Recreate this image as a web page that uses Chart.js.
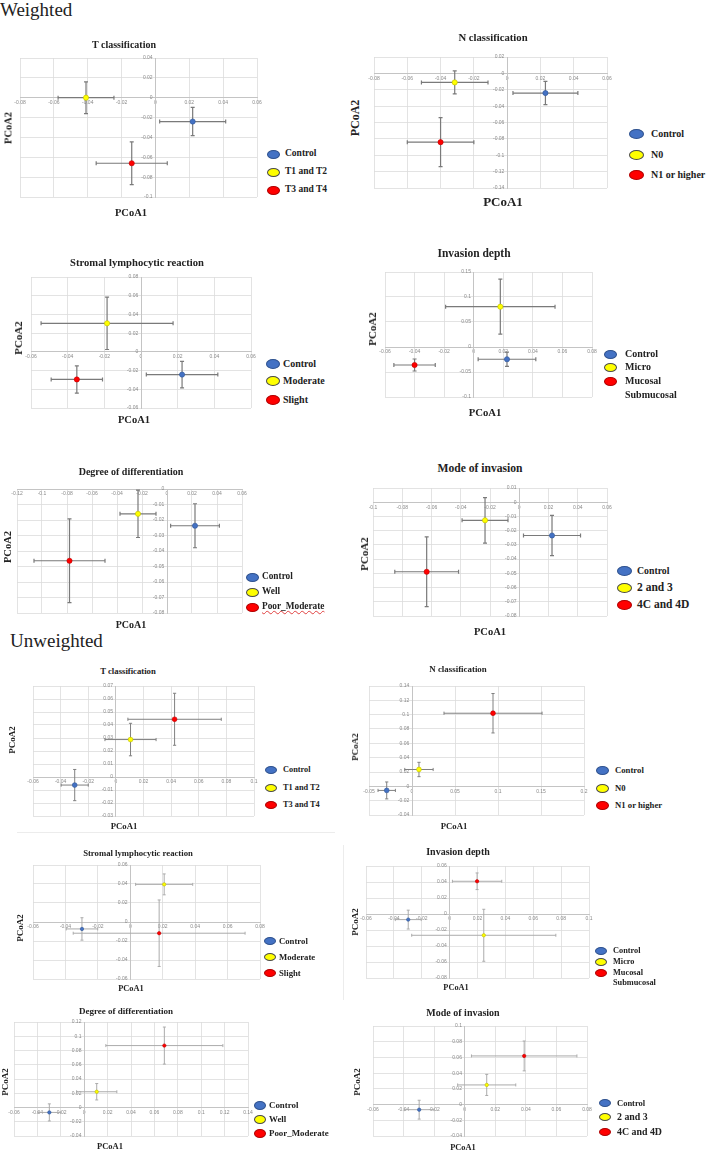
<!DOCTYPE html>
<html>
<head>
<meta charset="utf-8">
<script src="https://cdn.jsdelivr.net/npm/chart.js@4.4.0/dist/chart.umd.min.js"></script>
<style>
  body { margin: 0; background: #fff; }
  #page { position: relative; width: 709px; height: 1152px; overflow: hidden; font-family: 'Liberation Serif', 'Times New Roman', serif; color: #222; }
  .abs { position: absolute; white-space: pre; }
  .head { font-size: 19px; }
  .ttl { font-weight: bold; transform: translate(-50%, -50%); }
  .ylab { font-weight: bold; transform: translate(-50%, -50%) rotate(-90deg); }
  .lg { font-weight: bold; }
  .dot { position: absolute; border-radius: 50%; box-sizing: border-box; }
  .sep { position: absolute; background: #ececec; }
</style>
</head>
<body>
<div id="page">
  <div class="abs head" style="left:0;top:-1px">Weighted</div>
  <div class="abs head" style="left:10px;top:630px">Unweighted</div>
  <div class="sep" style="left:17px;top:832px;width:318px;height:1px"></div>
  <div class="sep" style="left:343px;top:845px;width:1px;height:155px"></div>
</div>
<script>
// group names
const grpT = ['Control', 'T1 and T2', 'T3 and T4'];
const grpN = ['Control', 'N0', 'N1 or higher'];
const grpS = ['Control', 'Moderate', 'Slight'];
const grpI = ['Control', 'Micro', 'Mucosal\nSubmucosal'];
const grpD = ['Control', 'Well', 'Poor_Moderate'];
const grpM = ['Control', '2 and 3', '4C and 4D'];

// weighted: mean PCoA1 / PCoA2 and error (+/-) per group
const wT_pc1 = [0.022, -0.041, -0.014];
const wT_pc2 = [-0.024, 0.000, -0.066];
const wT_e1 = [0.0195, 0.0165, 0.021];
const wT_e2 = [0.0142, 0.016, 0.0215];

const wN_pc1 = [0.023, -0.0315, -0.040];
const wN_pc2 = [-0.024, -0.011, -0.084];
const wN_e1 = [0.0195, 0.020, 0.020];
const wN_e2 = [0.0142, 0.014, 0.030];

const wS_pc1 = [0.0224, -0.0185, -0.035];
const wS_pc2 = [-0.0243, 0.0305, -0.0295];
const wS_e1 = [0.0195, 0.036, 0.014];
const wS_e2 = [0.0142, 0.028, 0.0145];

const wI_pc1 = [0.0225, 0.018, -0.040];
const wI_pc2 = [-0.0245, 0.0806, -0.036];
const wI_e1 = [0.0195, 0.037, 0.014];
const wI_e2 = [0.0142, 0.055, 0.012];

const wD_pc1 = [0.0224, -0.0232, -0.078];
const wD_pc2 = [-0.0237, -0.016, -0.0463];
const wD_e1 = [0.0195, 0.0144, 0.0284];
const wD_e2 = [0.0142, 0.0153, 0.027];

const wM_pc1 = [0.0224, -0.0234, -0.0633];
const wM_pc2 = [-0.0234, -0.0127, -0.0489];
const wM_e1 = [0.0195, 0.0157, 0.0218];
const wM_e2 = [0.0142, 0.016, 0.0245];

// unweighted
const uT_pc1 = [-0.0298, 0.0106, 0.0425];
const uT_pc2 = [-0.0062, 0.0288, 0.0444];
const uT_e1 = [0.0098, 0.0185, 0.0338];
const uT_e2 = [0.012, 0.0125, 0.020];

const uN_pc1 = [-0.0294, 0.0081, 0.0942];
const uN_pc2 = [-0.0057, 0.0235, 0.102];
const uN_e1 = [0.0101, 0.0165, 0.057];
const uN_e2 = [0.0118, 0.010, 0.0275];

const uS_pc1 = [-0.0298, 0.0209, 0.0178];
const uS_pc2 = [-0.0073, 0.0396, -0.0118];
const uS_e1 = [0.0097, 0.0176, 0.053];
const uS_e2 = [0.0118, 0.011, 0.035];

const uI_pc1 = [-0.0297, 0.0245, 0.0197];
const uI_pc2 = [-0.007, -0.0266, 0.0409];
const uI_e1 = [0.0093, 0.0517, 0.0177];
const uI_e2 = [0.0118, 0.0325, 0.0104];

const uD_pc1 = [-0.0298, 0.0107, 0.0685];
const uD_pc2 = [-0.0069, 0.0221, 0.0869];
const uD_e1 = [0.0098, 0.0172, 0.050];
const uD_e2 = [0.012, 0.0115, 0.026];

const uM_pc1 = [-0.0298, 0.0144, 0.0389];
const uM_pc2 = [-0.0065, 0.025, 0.0619];
const uM_e1 = [0.0098, 0.019, 0.0345];
const uM_e2 = [0.012, 0.0134, 0.019];

// axis ticks: [min, max, step]
const wT_xTicks = [-0.08, 0.06, 0.02], wT_yTicks = [-0.1, 0.04, 0.02];
const wN_xTicks = [-0.08, 0.06, 0.02], wN_yTicks = [-0.14, 0.02, 0.02];
const wS_xTicks = [-0.06, 0.06, 0.02], wS_yTicks = [-0.06, 0.08, 0.02];
const wI_xTicks = [-0.06, 0.08, 0.02], wI_yTicks = [-0.1, 0.15, 0.05];
const wD_xTicks = [-0.12, 0.06, 0.02], wD_yTicks = [-0.08, 0, 0.01];
const wM_xTicks = [-0.1, 0.06, 0.02], wM_yTicks = [-0.08, 0.01, 0.01];
const uT_xTicks = [-0.06, 0.1, 0.02], uT_yTicks = [-0.03, 0.07, 0.01];
const uN_xTicks = [-0.05, 0.2, 0.05], uN_yTicks = [-0.04, 0.14, 0.02];
const uS_xTicks = [-0.06, 0.08, 0.02], uS_yTicks = [-0.06, 0.06, 0.02];
const uI_xTicks = [-0.06, 0.1, 0.02], uI_yTicks = [-0.08, 0.06, 0.02];
const uD_xTicks = [-0.06, 0.14, 0.02], uD_yTicks = [-0.04, 0.12, 0.02];
const uM_xTicks = [-0.06, 0.08, 0.02], uM_yTicks = [-0.04, 0.1, 0.02];

// look
const FILL = ['#4472C4', '#FFFF00', '#FF0000'];
const EDGE = ['#2F5597', '#BDBD00', '#C00000'];
const LG_EDGE = ['#2F528F', '#4a4a4a', '#B00000'];
const W = { r: 2.6, bar: '#7a7a7a', bw: 1.2, cap: 2 };
const U1 = { r: 2.4, bar: '#808080', bw: 1, cap: 1.6 };
const U2 = { r: 1.7, bar: '#ababab', bw: 1, cap: 1.5 };

const panels = [
  { title: 'T classification', g: grpT, pc1: wT_pc1, pc2: wT_pc2, e1: wT_e1, e2: wT_e2, xt: wT_xTicks, yt: wT_yTicks,
    box: [20, 58, 237, 139], tp: [124, 44, 10], yl: [8, 128, 10.5], xl: [131, 212, 10.5],
    lg: { x: 267, tx: 285, ys: [154, 172, 190], fs: 9.5, ew: 13, eh: 9 }, st: W },
  { title: 'N classification', g: grpN, pc1: wN_pc1, pc2: wN_pc2, e1: wN_e1, e2: wN_e2, xt: wN_xTicks, yt: wN_yTicks,
    box: [374, 57, 233, 131], tp: [493, 37, 10.7], yl: [355, 118, 12], xl: [503, 202, 13],
    lg: { x: 629, tx: 651, ys: [134, 155, 175], fs: 10, ew: 15, eh: 10 }, st: W },
  { title: 'Stromal lymphocytic reaction', g: grpS, pc1: wS_pc1, pc2: wS_pc2, e1: wS_e1, e2: wS_e2, xt: wS_xTicks, yt: wS_yTicks,
    box: [31, 277, 220, 131], tp: [137, 262, 10.6], yl: [18, 338, 11], xl: [134, 419, 10.5],
    lg: { x: 266, tx: 283, ys: [364, 381, 400], fs: 10, ew: 14, eh: 10 }, st: W },
  { title: 'Invasion depth', g: grpI, pc1: wI_pc1, pc2: wI_pc2, e1: wI_e1, e2: wI_e2, xt: wI_xTicks, yt: wI_yTicks,
    box: [385, 272, 207, 125], tp: [474, 253, 11.5], yl: [372, 329, 11], xl: [485, 412, 10.7],
    lg: { x: 604, tx: 625, ys: [354, 367, 381], lh: 13.5, fs: 10, ew: 13, eh: 9 }, st: W },
  { title: 'Degree of differentiation', g: grpD, pc1: wD_pc1, pc2: wD_pc2, e1: wD_e1, e2: wD_e2, xt: wD_xTicks, yt: wD_yTicks,
    box: [17, 489, 225, 124], tp: [131, 471, 10], yl: [7, 547, 10.5], xl: [131, 624, 10],
    lg: { x: 246, tx: 262, ys: [577, 592, 607], fs: 9.3, ew: 13, eh: 9, under: true }, st: W },
  { title: 'Mode of invasion', g: grpM, pc1: wM_pc1, pc2: wM_pc2, e1: wM_e1, e2: wM_e2, xt: wM_xTicks, yt: wM_yTicks,
    box: [373, 488, 234, 128], tp: [480, 468, 11.6], yl: [364, 554, 11], xl: [490, 631, 10.5],
    lg: { x: 617, tx: 637, ys: [571, 588, 605], fs: 9.8, big: 11.5, ew: 15, eh: 10 }, st: W },
  { title: 'T classification', g: grpT, pc1: uT_pc1, pc2: uT_pc2, e1: uT_e1, e2: uT_e2, xt: uT_xTicks, yt: uT_yTicks,
    box: [33, 686, 221, 130], tp: [128, 671, 8.7], yl: [12, 740, 9], xl: [124, 826, 8.7],
    lg: { x: 265, tx: 283, ys: [770, 788, 805], fs: 8.3, ew: 12, eh: 8 }, st: U1 },
  { title: 'N classification', g: grpN, pc1: uN_pc1, pc2: uN_pc2, e1: uN_e1, e2: uN_e2, xt: uN_xTicks, yt: uN_yTicks,
    box: [369, 686, 215, 129], tp: [458, 669, 8.9], yl: [355, 747, 9], xl: [454, 826, 8.7],
    lg: { x: 596, tx: 615, ys: [770, 788, 805], fs: 8.7, ew: 13, eh: 9 }, st: U1 },
  { title: 'Stromal lymphocytic reaction', g: grpS, pc1: uS_pc1, pc2: uS_pc2, e1: uS_e1, e2: uS_e2, xt: uS_xTicks, yt: uS_yTicks,
    box: [33, 865, 227, 114], tp: [138, 853, 8.7], yl: [20, 928, 9], xl: [131, 988, 8.4],
    lg: { x: 264, tx: 279, ys: [941, 957, 973], fs: 8.7, ew: 12, eh: 8 }, st: U2 },
  { title: 'Invasion depth', g: grpI, pc1: uI_pc1, pc2: uI_pc2, e1: uI_e1, e2: uI_e2, xt: uI_xTicks, yt: uI_yTicks,
    box: [366, 866, 223, 112], tp: [458, 851, 10], yl: [355, 922, 9], xl: [456, 987, 8.3],
    lg: { x: 595, tx: 613, ys: [951, 962, 973], lh: 10.5, fs: 8.3, ew: 12, eh: 8 }, st: U2 },
  { title: 'Degree of differentiation', g: grpD, pc1: uD_pc1, pc2: uD_pc2, e1: uD_e1, e2: uD_e2, xt: uD_xTicks, yt: uD_yTicks,
    box: [14, 1022, 234, 114], tp: [126, 1011, 9], yl: [5, 1082, 9], xl: [110, 1146, 8.5],
    lg: { x: 254, tx: 269, ys: [1105, 1119, 1133], fs: 8.9, ew: 12, eh: 9 }, st: U2 },
  { title: 'Mode of invasion', g: grpM, pc1: uM_pc1, pc2: uM_pc2, e1: uM_e1, e2: uM_e2, xt: uM_xTicks, yt: uM_yTicks,
    box: [373, 1026, 214, 110], tp: [463, 1012, 10], yl: [357, 1082, 9], xl: [463, 1147, 8.4],
    lg: { x: 599, tx: 617, ys: [1103, 1117, 1132], fs: 8.5, big: 9.9, ew: 12, eh: 8 }, st: U2 }
];

// error bars drawn from each point's +/- values through the chart scales
const errorBars = {
  id: 'errorBars',
  beforeDatasetsDraw(chart, args, opts) {
    const { ctx, scales: { x, y } } = chart;
    const c = opts.cap;
    ctx.save();
    ctx.strokeStyle = opts.color;
    ctx.lineWidth = opts.width;
    chart.data.datasets.forEach(ds => {
      ds.data.forEach(p => {
        const px = x.getPixelForValue(p.x), py = y.getPixelForValue(p.y);
        const x0 = x.getPixelForValue(p.x - p.xe), x1 = x.getPixelForValue(p.x + p.xe);
        const y0 = y.getPixelForValue(p.y - p.ye), y1 = y.getPixelForValue(p.y + p.ye);
        ctx.beginPath();
        ctx.moveTo(x0, py); ctx.lineTo(x1, py);
        ctx.moveTo(x0, py - c); ctx.lineTo(x0, py + c);
        ctx.moveTo(x1, py - c); ctx.lineTo(x1, py + c);
        ctx.moveTo(px, y0); ctx.lineTo(px, y1);
        ctx.moveTo(px - c, y0); ctx.lineTo(px + c, y0);
        ctx.moveTo(px - c, y1); ctx.lineTo(px + c, y1);
        ctx.stroke();
      });
    });
    ctx.restore();
  }
};

const fmt = v => String(parseFloat(Number(v).toFixed(4)));
const page = document.getElementById('page');

function addText(cls, txt, css) {
  const d = document.createElement('div');
  d.className = 'abs ' + cls;
  d.textContent = txt;
  d.style.cssText = css;
  page.appendChild(d);
  return d;
}

function axisOpts(t, pos, isY) {
  return {
    type: 'linear',
    position: pos,
    min: t[0], max: t[1],
    ticks: {
      stepSize: t[2], autoSkip: false, maxRotation: 0, padding: 2,
      color: '#8a8a8a', font: { size: 5, family: 'Liberation Sans' },
      callback: v => isY ? fmt(v) + '  ' : fmt(v)
    },
    grid: { color: '#dcdcdc', lineWidth: 0.8, drawTicks: false },
    border: { color: '#c4c4c4', width: 1 }
  };
}

panels.forEach(p => {
  const pad = 10;
  const [bx, by, bw, bh] = p.box;
  const cv = document.createElement('canvas');
  cv.width = bw + 2 * pad;
  cv.height = bh + 2 * pad;
  cv.style.cssText = `position:absolute;left:${bx - pad}px;top:${by - pad}px;`;
  page.appendChild(cv);

  new Chart(cv, {
    type: 'scatter',
    data: {
      datasets: p.g.map((name, k) => ({
        label: name,
        data: [{ x: p.pc1[k], y: p.pc2[k], xe: p.e1[k], ye: p.e2[k] }],
        backgroundColor: FILL[k],
        borderColor: EDGE[k],
        borderWidth: 0.6,
        pointRadius: p.st.r
      }))
    },
    options: {
      responsive: false,
      animation: false,
      devicePixelRatio: 1,
      layout: { padding: pad },
      plugins: {
        legend: { display: false },
        tooltip: { enabled: false },
        errorBars: { color: p.st.bar, width: p.st.bw, cap: p.st.cap }
      },
      scales: {
        x: axisOpts(p.xt, { y: 0 }, false),
        y: axisOpts(p.yt, { x: 0 }, true)
      }
    },
    plugins: [errorBars]
  });

  addText('ttl', p.title, `left:${p.tp[0]}px;top:${p.tp[1]}px;font-size:${p.tp[2]}px`);
  addText('ylab', 'PCoA2', `left:${p.yl[0]}px;top:${p.yl[1]}px;font-size:${p.yl[2]}px`);
  addText('ttl', 'PCoA1', `left:${p.xl[0]}px;top:${p.xl[1]}px;font-size:${p.xl[2]}px`);

  const lg = p.lg;
  const lh = lg.lh || lg.fs * 1.2;
  p.g.forEach((name, k) => {
    const y = lg.ys[k];
    const e = document.createElement('div');
    e.className = 'dot';
    e.style.cssText = `left:${lg.x}px;top:${y - lg.eh / 2}px;width:${lg.ew}px;height:${lg.eh}px;background:${FILL[k]};border:1px solid ${LG_EDGE[k]}`;
    page.appendChild(e);
    const fs = (lg.big && k > 0) ? lg.big : lg.fs;
    const t = addText('lg', name, `left:${lg.tx}px;top:${y - lh / 2}px;font-size:${fs}px;line-height:${lh}px`);
    if (lg.under && k === 2) {
      t.style.textDecoration = 'underline wavy #e04040';
      t.style.textDecorationThickness = '1px';
    }
  });
});
</script>
</body>
</html>
